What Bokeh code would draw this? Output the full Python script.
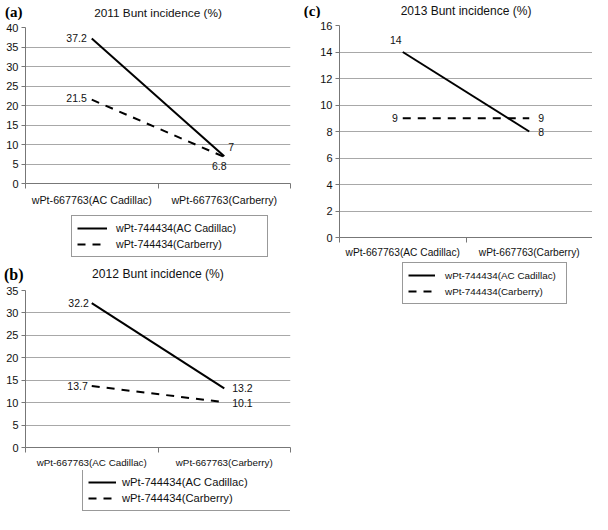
from bokeh.plotting import figure
from bokeh.models import (FixedTicker, Legend, LegendItem, ColumnDataSource, Range1d,
                          LinearAxis)
from bokeh.layouts import column, row
from bokeh.core.properties import value
from bokeh.embed import file_html
from bokeh.resources import INLINE

# ---------------- data ----------------
categories = ["wPt-667763(AC Cadillac)", "wPt-667763(Carberry)"]
series_names = ["wPt-744434(AC Cadillac)", "wPt-744434(Carberry)"]
titles = ["2011 Bunt incidence (%)", "2012 Bunt incidence (%)", "2013 Bunt incidence (%)"]
panel_tags = ["(a)", "(b)", "(c)"]

cadillac_2011 = [37.2, 7]
carberry_2011 = [21.5, 6.8]
cadillac_2012 = [32.2, 13.2]
carberry_2012 = [13.7, 10.1]
cadillac_2013 = [14, 8]
carberry_2013 = [9, 9]

y_max = [40, 35, 16]
y_step = [5, 5, 2]

series_data = [
    (cadillac_2011, carberry_2011),
    (cadillac_2012, carberry_2012),
    (cadillac_2013, carberry_2013),
]

# ---------------- styles / geometry ----------------
FONT = "Liberation Sans"
TAG_FONT = "Liberation Serif"
TXT = "#111111"
GRID = "#a8a8a8"
AXIS = "#777777"
SOLID = dict(line_color="black", line_width=2)
DASHED = dict(line_color="black", line_width=2, line_dash="8 7")

# left/right borders are shared by every figure stacked in the same column
panels = [
    dict(width=300, left=22, right=10,
         head_h=20, tag_y=11, tag_size="15px", tag_so=3, title_y=12, title_size="11.8px",
         chart_h=188, top=7, bottom=24, ax_standoff=5, cat_size="10.7px",
         leg_h=50, leg_x=68, leg_top=9, leg_pad=5, leg_sp=2, leg_item=14, leg_gw=30,
         leg_so=9, leg_lw=146, leg_size="10.7px"),
    dict(width=300, left=22, right=10,
         head_h=26, tag_y=16, tag_size="16px", tag_so=2, title_y=15, title_size="12.1px",
         chart_h=186, top=6, bottom=22, ax_standoff=4, cat_size="9.8px",
         leg_h=44, leg_x=79, leg_top=1, leg_pad=5, leg_sp=2, leg_item=14, leg_gw=28,
         leg_so=6, leg_lw=165, leg_size="11.2px"),
    dict(width=292, left=39, right=0,
         head_h=18, tag_y=10, tag_size="15px", tag_so=19, title_y=10, title_size="12px",
         chart_h=243, top=7, bottom=24, ax_standoff=4, cat_size="10.2px",
         leg_h=46, leg_x=102, leg_top=3, leg_pad=5, leg_sp=2, leg_item=14, leg_gw=27,
         leg_so=10, leg_lw=116, leg_size="9.9px"),
]

# value-label placement per panel: [series][point] -> (align, x_off, y_off)
lab_cfg = [
    [[("right", -5, 0), ("left", 4, -9)], [("right", -5, -2), ("center", -5, 9)]],
    [[("right", -3, 0), ("left", 8, 0)], [("right", -4, 0), ("left", 8, 1)]],
    [[("center", -7, -12), ("left", 9, 0)], [("right", -5, 0), ("left", 9, 0)]],
]


def blank_fig(g, h, xr, yr):
    f = figure(width=g["width"], height=h, x_range=xr, y_range=yr, title=None,
               output_backend="svg", toolbar_location=None,
               min_border_left=g["left"], min_border_right=g["right"],
               min_border_top=0, min_border_bottom=0,
               x_axis_location=None, y_axis_location=None, outline_line_color=None,
               background_fill_color="white", border_fill_color="white")
    f.grid.visible = False
    return f


def make_panel(i):
    g = panels[i]
    cad, car = series_data[i]
    n = len(categories)
    xs = [k + 0.5 for k in range(n)]

    # ---- header: panel tag (as a left-side label) + centred title ----
    head = blank_fig(g, g["head_h"], Range1d(0, 1), Range1d(g["head_h"], 0))
    tag_axis = LinearAxis(ticker=FixedTicker(ticks=[g["tag_y"]]),
                          major_label_overrides={g["tag_y"]: panel_tags[i]},
                          axis_line_color=None, major_tick_line_color=None,
                          minor_tick_line_color=None, major_tick_out=0, major_tick_in=0,
                          major_label_standoff=g["tag_so"],
                          major_label_text_font=TAG_FONT,
                          major_label_text_font_style="bold",
                          major_label_text_font_size=g["tag_size"],
                          major_label_text_color="black")
    head.add_layout(tag_axis, "left")
    head.text(x=[0.5], y=[g["title_y"]], text=[titles[i]],
              text_align="center", text_baseline="middle", text_font=value(FONT),
              text_font_size=g["title_size"], text_color=TXT)

    # ---- chart ----
    p = figure(width=g["width"], height=g["chart_h"], output_backend="svg", title=None,
               toolbar_location=None, x_range=Range1d(0, n), y_range=Range1d(0, y_max[i]),
               min_border_left=g["left"], min_border_right=g["right"],
               min_border_top=g["top"], min_border_bottom=g["bottom"],
               background_fill_color="white", border_fill_color="white",
               outline_line_color=None)

    p.yaxis.ticker = FixedTicker(ticks=list(range(0, y_max[i] + 1, y_step[i])))
    p.yaxis.axis_line_color = AXIS
    p.yaxis.major_tick_line_color = AXIS
    p.yaxis.major_tick_out = 4
    p.yaxis.major_tick_in = 0
    p.yaxis.minor_tick_line_color = None
    p.yaxis.major_label_standoff = 3
    p.yaxis.major_label_text_font = FONT
    p.yaxis.major_label_text_font_size = "11px"
    p.yaxis.major_label_text_color = TXT

    p.xaxis.ticker = FixedTicker(ticks=xs, minor_ticks=list(range(n + 1)))
    p.xaxis.major_label_overrides = {x: c for x, c in zip(xs, categories)}
    p.xaxis.axis_line_color = AXIS
    p.xaxis.major_tick_line_color = None
    p.xaxis.major_tick_out = 5
    p.xaxis.major_tick_in = 0
    p.xaxis.minor_tick_line_color = AXIS
    p.xaxis.minor_tick_out = 5
    p.xaxis.minor_tick_in = 0
    p.xaxis.major_label_standoff = g["ax_standoff"]
    p.xaxis.major_label_text_font = FONT
    p.xaxis.major_label_text_font_size = g["cat_size"]
    p.xaxis.major_label_text_color = TXT

    p.xgrid.visible = False
    p.ygrid.grid_line_color = GRID
    p.ygrid.grid_line_width = 1

    p.line(xs, cad, **SOLID)
    p.line(xs, car, **DASHED)

    txt, lx, ly, al, xo, yo = [], [], [], [], [], []
    for s, vals in enumerate((cad, car)):
        for k, v in enumerate(vals):
            a, dx, dy = lab_cfg[i][s][k]
            txt.append(f"{v:g}")
            lx.append(xs[k])
            ly.append(v)
            al.append(a)
            xo.append(dx)
            yo.append(dy)
    src = ColumnDataSource(dict(x=lx, y=ly, text=txt, align=al, xo=xo, yo=yo))
    p.text(x="x", y="y", text="text", source=src, text_align="align",
           text_baseline="middle", x_offset="xo", y_offset="yo",
           text_font=value(FONT), text_font_size="10.5px", text_color=TXT)

    # ---- legend strip ----
    lf = blank_fig(g, g["leg_h"], Range1d(0, 1), Range1d(0, 1))
    # key-only renderers (their points sit outside the visible range)
    k1 = lf.line(x=[0, 1], y=[-5, -5], **SOLID)
    k2 = lf.line(x=[0, 1], y=[-5, -5], **DASHED)
    box_h = 2 * g["leg_pad"] + 2 * g["leg_item"] + g["leg_sp"]
    legend = Legend(items=[LegendItem(label=series_names[0], renderers=[k1]),
                           LegendItem(label=series_names[1], renderers=[k2])],
                    location=(g["leg_x"] - g["left"], g["leg_h"] - g["leg_top"] - box_h),
                    orientation="vertical", margin=0,
                    border_line_color="#333333", border_line_width=1,
                    background_fill_color="white", background_fill_alpha=1,
                    padding=g["leg_pad"], spacing=g["leg_sp"],
                    glyph_width=g["leg_gw"], glyph_height=g["leg_item"],
                    label_height=g["leg_item"], label_width=g["leg_lw"],
                    label_standoff=g["leg_so"], label_text_font=FONT,
                    label_text_font_size=g["leg_size"], label_text_color=TXT)
    lf.add_layout(legend)

    return [head, p, lf]


left_col = column(*(make_panel(0) + make_panel(1)))
right_col = column(*make_panel(2))
layout = row(left_col, right_col)

open("out.html", "w").write(file_html(layout, INLINE))
